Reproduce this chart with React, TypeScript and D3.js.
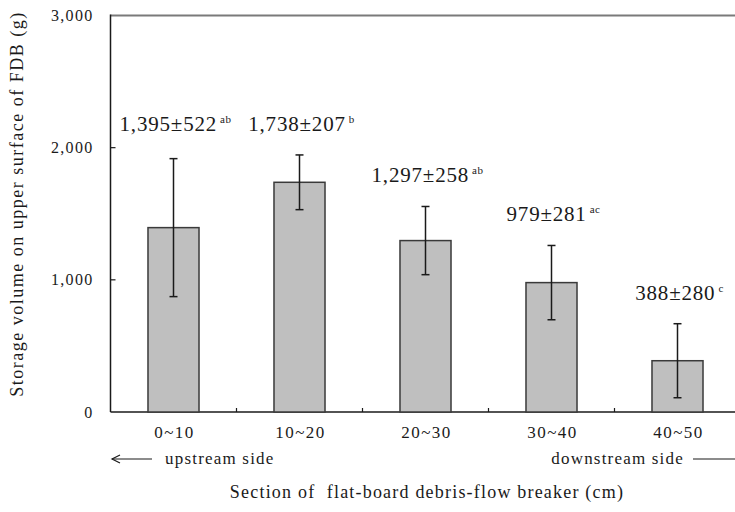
import React from "react";
import * as d3 from "d3";

// Storage volume per section of the flat-board debris-flow breaker
const sections = ["0~10", "10~20", "20~30", "30~40", "40~50"];
const means = [1395, 1738, 1297, 979, 388];
const sds = [522, 207, 258, 281, 280];
const groups = ["ab", "b", "ab", "ac", "c"];
const yTicks = [0, 1000, 2000, 3000];

const W = 735;
const H = 512;
const plot = { left: 110.5, top: 15.5, right: 740.5, bottom: 412 };
const serif = "'Liberation Serif', 'DejaVu Serif', serif";
const ink = "#1a1a1a";

export default function App() {
  const x = d3
    .scaleBand<string>()
    .domain(sections)
    .range([plot.left, plot.right])
    .paddingInner(0.595)
    .paddingOuter(0.2975);
  const y = d3.scaleLinear().domain([0, 3000]).range([plot.bottom, plot.top]);
  const fmt = d3.format(",");
  const step = x.step();
  const bw = x.bandwidth();

  // Value labels sit above each error bar; neighbouring labels that land
  // nearly on the same row share the higher baseline.
  const raw = means.map((m, i) => y(m + sds[i]) - 24);
  const labelY = raw.map((v, i) => {
    let out = v;
    if (i > 0 && Math.abs(raw[i - 1] - v) < 6) out = Math.min(out, raw[i - 1]);
    if (i < raw.length - 1 && Math.abs(raw[i + 1] - v) < 6) out = Math.min(out, raw[i + 1]);
    return out;
  });

  const boundaries = sections.slice(1).map((s) => (x(s) as number) - (step - bw) / 2);
  const arrowY = 459;

  return (
    <svg
      width={W}
      height={H}
      viewBox={`0 0 ${W} ${H}`}
      style={{ position: "absolute", left: 0, top: 0, background: "#fff" }}
    >
      {/* frame */}
      <line x1={plot.left} x2={plot.right} y1={plot.top} y2={plot.top} stroke="#7a7a7a" strokeWidth={2} />
      <line x1={plot.left} x2={plot.left} y1={plot.top - 1} y2={plot.bottom} stroke={ink} strokeWidth={1.5} />
      <line x1={plot.left} x2={plot.right} y1={plot.bottom} y2={plot.bottom} stroke={ink} strokeWidth={1.5} />

      {/* y ticks and labels */}
      {yTicks.map((t) => (
        <g key={t}>
          {t > 0 && t < 3000 && (
            <line x1={plot.left} x2={plot.left + 5} y1={y(t)} y2={y(t)} stroke={ink} strokeWidth={1.2} />
          )}
          <text
            x={93.5}
            y={y(t)}
            dy="0.35em"
            textAnchor="end"
            fontFamily={serif}
            fontSize={16}
            letterSpacing={1.3}
            fill={ink}
          >
            {fmt(t)}
          </text>
        </g>
      ))}

      {/* x ticks between sections */}
      {boundaries.map((b, i) => (
        <line key={i} x1={b} x2={b} y1={plot.bottom} y2={plot.bottom - 4} stroke={ink} strokeWidth={1.2} />
      ))}

      {/* bars */}
      {sections.map((s, i) => (
        <rect
          key={s}
          x={x(s)}
          y={y(means[i])}
          width={bw}
          height={plot.bottom - y(means[i])}
          fill="#bfbfbf"
          stroke="#3a3a3a"
          strokeWidth={1.5}
        />
      ))}

      {/* error bars */}
      {sections.map((s, i) => {
        const cx = (x(s) as number) + bw / 2;
        const hi = y(means[i] + sds[i]);
        const lo = y(Math.max(0, means[i] - sds[i]));
        return (
          <g key={s} stroke={ink} strokeWidth={1.5}>
            <line x1={cx} x2={cx} y1={hi} y2={lo} />
            <line x1={cx - 4} x2={cx + 4} y1={hi} y2={hi} />
            <line x1={cx - 4} x2={cx + 4} y1={lo} y2={lo} />
          </g>
        );
      })}

      {/* value labels */}
      {sections.map((s, i) => {
        const cx = (x(s) as number) + bw / 2;
        return (
          <text
            key={s}
            x={cx + 2}
            y={labelY[i]}
            textAnchor="middle"
            fontFamily={serif}
            fontSize={21}
            letterSpacing={0.8}
            fill={ink}
          >
            {`${fmt(means[i])}±${sds[i]}`}
            <tspan fontSize={11} dx={3} dy={-8} letterSpacing={0.5}>
              {groups[i]}
            </tspan>
          </text>
        );
      })}

      {/* section labels */}
      {sections.map((s) => (
        <text
          key={s}
          x={(x(s) as number) + bw / 2 + 1}
          y={438}
          textAnchor="middle"
          fontFamily={serif}
          fontSize={17}
          letterSpacing={1.5}
          fill={ink}
        >
          {s}
        </text>
      ))}

      {/* flow direction */}
      <g stroke={ink} strokeWidth={1.2} fill="none">
        <line x1={112} x2={152} y1={arrowY} y2={arrowY} />
        <polyline points={`${120},${arrowY - 4} ${112},${arrowY} ${120},${arrowY + 4}`} />
        <line x1={693} x2={745} y1={arrowY} y2={arrowY} />
      </g>
      <text x={165} y={arrowY} dy="0.3em" fontFamily={serif} fontSize={17} letterSpacing={1.2} fill={ink}>
        upstream side
      </text>
      <text
        x={684}
        y={arrowY}
        dy="0.3em"
        textAnchor="end"
        fontFamily={serif}
        fontSize={17}
        letterSpacing={1.2}
        fill={ink}
      >
        downstream side
      </text>

      {/* axis titles */}
      <text
        x={427}
        y={498}
        textAnchor="middle"
        fontFamily={serif}
        fontSize={18}
        letterSpacing={1.2}
        fill={ink}
        style={{ whiteSpace: "pre" }}
      >
        {"Section of  flat-board debris-flow breaker (cm)"}
      </text>
      <text
        transform={`translate(23, 204) rotate(-90)`}
        textAnchor="middle"
        fontFamily={serif}
        fontSize={18}
        letterSpacing={1.5}
        fill={ink}
      >
        Storage volume on upper surface of FDB (g)
      </text>
    </svg>
  );
}
